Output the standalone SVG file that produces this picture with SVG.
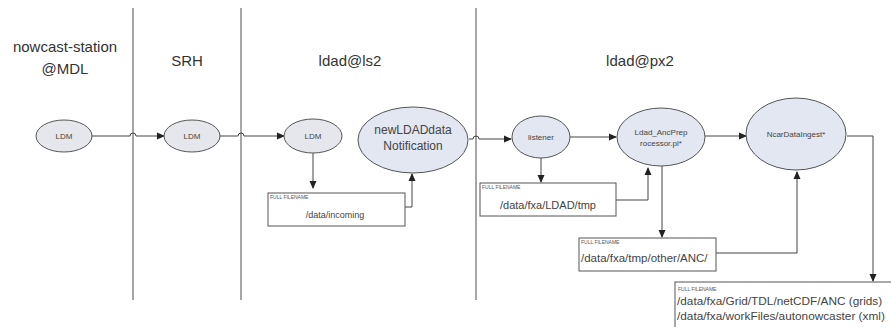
<svg xmlns="http://www.w3.org/2000/svg" width="891" height="327" viewBox="0 0 891 327">
<style>
.lane{stroke:#888;stroke-width:1.5;fill:none}
.title{font-family:"Liberation Sans",Arial,sans-serif;font-size:15px;fill:#333;text-anchor:middle}
.node{fill:#e2e7f1;stroke:#555;stroke-width:1}
.gnode{fill:#e6e7ec;stroke:#555;stroke-width:1}
.lbl{font-family:"Liberation Sans",Arial,sans-serif;fill:#444;text-anchor:middle}
.box{fill:#fff;stroke:#555;stroke-width:1}
.ff{font-family:"Liberation Sans",Arial,sans-serif;font-size:5px;fill:#555}
.path{font-family:"Liberation Sans",Arial,sans-serif;fill:#444}
.c{fill:none;stroke:#444;stroke-width:1;marker-end:url(#ah)}
</style>
<defs>
<marker id="ah" markerWidth="8" markerHeight="8" refX="7" refY="4" orient="auto" markerUnits="userSpaceOnUse">
<path d="M0,0.5 L8,4 L0,7.5 z" fill="#222"/>
</marker>
</defs>
<rect width="891" height="327" fill="#fff"/>
<g id="lanes">
<line class="lane" x1="133" y1="8" x2="133" y2="300"/>
<line class="lane" x1="241" y1="8" x2="241" y2="300"/>
<line class="lane" x1="476" y1="8" x2="476" y2="300"/>
<text class="title" x="65" y="52">nowcast-station</text>
<text class="title" x="65" y="74">@MDL</text>
<text class="title" x="187" y="66">SRH</text>
<text class="title" x="350" y="66">ldad@ls2</text>
<text class="title" x="640" y="66">ldad@px2</text>
</g>
<g id="connectors">
<path class="c" d="M92,136 H130 a3,3 0 0 1 6,0 H164"/>
<path class="c" d="M220,136 H238 a3,3 0 0 1 6,0 H284"/>
<path class="c" d="M313,152 V188"/>
<path class="c" d="M405,207 H412 V174"/>
<path class="c" d="M469,139 H473 a3,3 0 0 1 6,0 H511"/>
<path class="c" d="M541,158 V182"/>
<path class="c" d="M570,137 H616"/>
<path class="c" d="M616,200 H648 V168"/>
<path class="c" d="M662,166 V237"/>
<path class="c" d="M705,136 H746"/>
<path class="c" d="M716,253 H797 V172"/>
<path class="c" d="M847,136 H873 V281"/>
</g>
<g id="ldm1">
<ellipse class="gnode" cx="64" cy="136" rx="28" ry="16"/>
<text class="lbl" x="64" y="139" font-size="8">LDM</text>
</g>
<g id="ldm2">
<ellipse class="gnode" cx="192" cy="136" rx="28" ry="16"/>
<text class="lbl" x="192" y="139" font-size="8">LDM</text>
</g>
<g id="ldm3">
<ellipse class="gnode" cx="313" cy="136" rx="29" ry="17"/>
<text class="lbl" x="313" y="139" font-size="8">LDM</text>
</g>
<g id="newldad">
<ellipse class="node" cx="413" cy="140" rx="55" ry="33"/>
<text class="lbl" x="413" y="134" font-size="12">newLDADdata</text>
<text class="lbl" x="413" y="150" font-size="12">Notification</text>
</g>
<g id="incoming">
<rect class="box" x="268" y="193" width="137" height="33"/>
<text class="ff" x="270" y="199">FULL FILENAME</text>
<text class="path" x="335" y="218" font-size="9" text-anchor="middle">/data/incoming</text>
</g>
<g id="listener">
<ellipse class="node" cx="541" cy="137" rx="29" ry="21"/>
<text class="lbl" x="541" y="140" font-size="8">listener</text>
</g>
<g id="ldadtmp">
<rect class="box" x="480" y="183" width="136" height="33"/>
<text class="ff" x="482" y="189">FULL FILENAME</text>
<text class="path" x="548" y="209" font-size="11" text-anchor="middle">/data/fxa/LDAD/tmp</text>
</g>
<g id="ancprep">
<ellipse class="node" cx="661" cy="137" rx="44" ry="29"/>
<text class="lbl" x="661" y="135" font-size="8">Ldad_AncPrep</text>
<text class="lbl" x="661" y="146" font-size="8">rocessor.pl*</text>
</g>
<g id="ancdir">
<rect class="box" x="579" y="238" width="137" height="33"/>
<text class="ff" x="581" y="244">FULL FILENAME</text>
<text class="path" x="581" y="262" font-size="11.5">/data/fxa/tmp/other/ANC/</text>
</g>
<g id="ncar">
<ellipse class="node" cx="796" cy="134" rx="50" ry="36"/>
<text class="lbl" x="796" y="137" font-size="8">NcarDataIngest*</text>
</g>
<g id="outdir">
<rect class="box" x="675" y="282" width="230" height="60"/>
<text class="ff" x="678" y="291">FULL FILENAME</text>
<text class="path" x="677" y="305" font-size="11.8">/data/fxa/Grid/TDL/netCDF/ANC (grids)</text>
<text class="path" x="677" y="320" font-size="11.8">/data/fxa/workFiles/autonowcaster (xml)</text>
</g>
</svg>
